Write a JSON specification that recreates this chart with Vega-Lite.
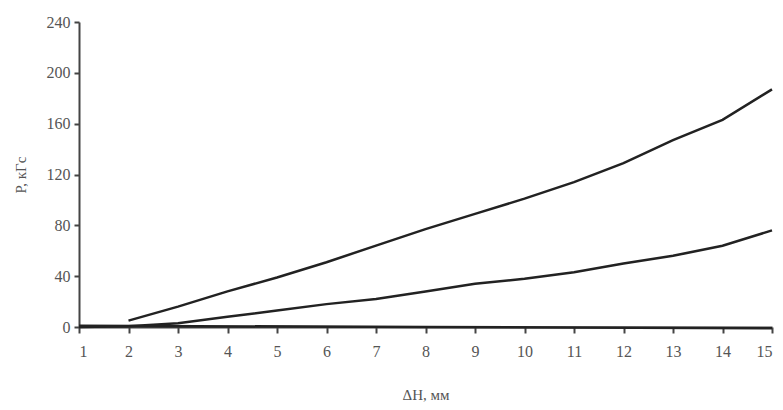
{
  "$schema": "https://vega.github.io/schema/vega-lite/v6.json",
  "autosize": "none",
  "width": 693,
  "height": 305,
  "padding": {"left": 79, "top": 22, "right": 11, "bottom": 83},
  "background": "white",
  "config": {
    "view": {"stroke": null},
    "font": "Liberation Serif",
    "axis": {"grid": false, "domainColor": "#444", "domainWidth": 2, "tickColor": "#444", "tickWidth": 2, "labelColor": "#555", "titleColor": "#555", "labelFont": "Liberation Serif", "titleFont": "Liberation Serif", "labelFontSize": 16, "titleFontSize": 15, "titleFontWeight": "normal"}
  },
  "data": {"values": [
    {"s": "a", "x": 2, "y": 5},
    {"s": "a", "x": 3, "y": 16},
    {"s": "a", "x": 4, "y": 28},
    {"s": "a", "x": 5, "y": 39},
    {"s": "a", "x": 6, "y": 51},
    {"s": "a", "x": 7, "y": 64},
    {"s": "a", "x": 8, "y": 77},
    {"s": "a", "x": 9, "y": 89},
    {"s": "a", "x": 10, "y": 101},
    {"s": "a", "x": 11, "y": 114},
    {"s": "a", "x": 12, "y": 129},
    {"s": "a", "x": 13, "y": 147},
    {"s": "a", "x": 14, "y": 163},
    {"s": "a", "x": 15, "y": 187},
    {"s": "b", "x": 1, "y": 0},
    {"s": "b", "x": 2, "y": 0.5},
    {"s": "b", "x": 3, "y": 3},
    {"s": "b", "x": 4, "y": 8},
    {"s": "b", "x": 5, "y": 13},
    {"s": "b", "x": 6, "y": 18},
    {"s": "b", "x": 7, "y": 22},
    {"s": "b", "x": 8, "y": 28},
    {"s": "b", "x": 9, "y": 34},
    {"s": "b", "x": 10, "y": 38},
    {"s": "b", "x": 11, "y": 43},
    {"s": "b", "x": 12, "y": 50},
    {"s": "b", "x": 13, "y": 56},
    {"s": "b", "x": 14, "y": 64},
    {"s": "b", "x": 15, "y": 76},
    {"s": "c", "x": 1, "y": 1},
    {"s": "c", "x": 8, "y": 0},
    {"s": "c", "x": 15, "y": -1}
  ]},
  "mark": {"type": "line", "color": "#222", "strokeWidth": 2.5, "clip": false},
  "encoding": {
    "x": {"field": "x", "type": "quantitative", "scale": {"domain": [1, 15], "nice": false, "zero": false},
      "axis": {"values": [1,2,3,4,5,6,7,8,9,10,11,12,13,14,15], "title": "ΔH, мм", "tickSize": 6, "labelPadding": 10, "titlePadding": 28, "offset": 0}},
    "y": {"field": "y", "type": "quantitative", "scale": {"domain": [0, 240], "nice": false},
      "axis": {"values": [0,40,80,120,160,200,240], "title": "P, кГс", "tickSize": 5, "labelPadding": 4, "titlePadding": 18}},
    "detail": {"field": "s"}
  }
}
